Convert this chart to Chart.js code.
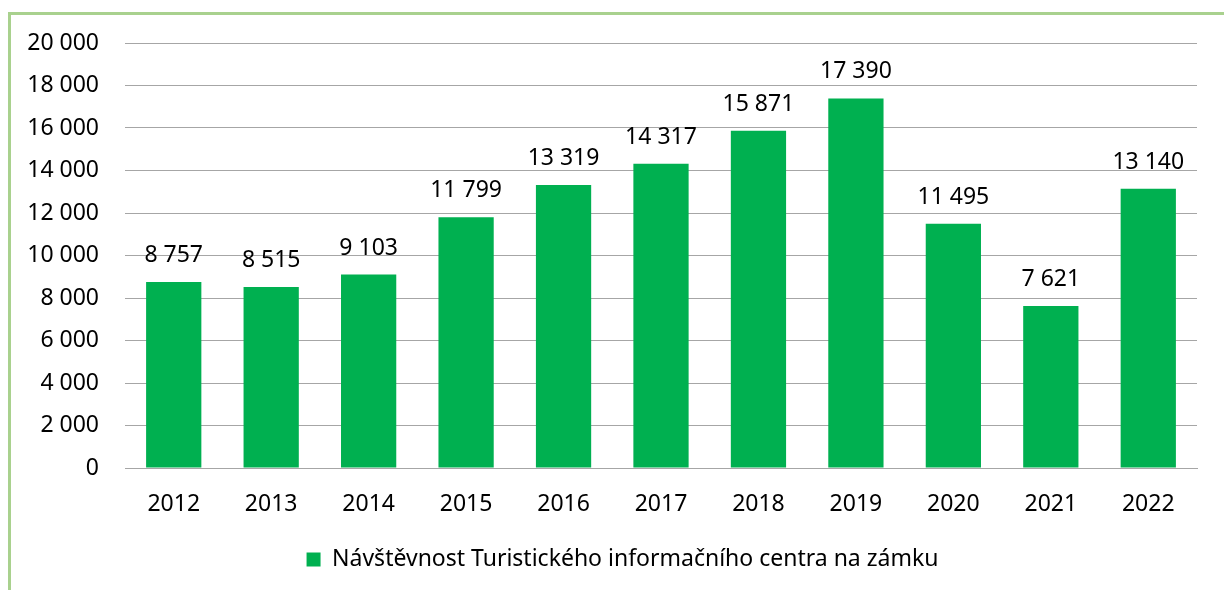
<!DOCTYPE html>
<html>
<head>
<meta charset="utf-8">
<script src="https://cdn.jsdelivr.net/npm/chart.js@4.4.1/dist/chart.umd.min.js"></script>
<style>
  html, body { margin: 0; padding: 0; background: #ffffff; }
  body { width: 1224px; height: 590px; position: relative; overflow: hidden; }
  #frame { position: absolute; left: 8px; top: 12px; width: 1240px; height: 600px;
           border-left: 3px solid #A9D18E; border-top: 3px solid #A9D18E; box-sizing: border-box; }
  #wrap { position: absolute; left: 0; top: 0; width: 1224px; height: 590px; }
</style>
</head>
<body>
<div id="frame"></div>
<div id="wrap"><canvas id="c" width="1224" height="590"></canvas></div>
<script>
const categories = ['2012','2013','2014','2015','2016','2017','2018','2019','2020','2021','2022'];
const visitors = [8757, 8515, 9103, 11799, 13319, 14317, 15871, 17390, 11495, 7621, 13140];
const seriesName = 'Návštěvnost Turistického informačního centra na zámku';
const yMin = 0, yMax = 20000, yStep = 2000;

const FONT = '"Noto Sans", "DejaVu Sans", sans-serif';
const fmt = v => String(v).replace(/\B(?=(\d{3})+(?!\d))/g, ' ');

const dataLabels = {
  id: 'dataLabels',
  afterDatasetsDraw(chart) {
    const ctx = chart.ctx;
    ctx.save();
    ctx.font = '23px ' + FONT;
    ctx.fillStyle = '#000000';
    ctx.textAlign = 'center';
    ctx.textBaseline = 'alphabetic';
    chart.getDatasetMeta(0).data.forEach((bar, i) => {
      ctx.fillText(fmt(chart.data.datasets[0].data[i]), bar.x, bar.y - 20);
    });
    ctx.restore();
  }
};

const legendShift = {
  id: 'legendShift',
  afterLayout(chart) {
    if (chart.legend) { chart.legend.left += 24; chart.legend.right += 24; }
  }
};

new Chart(document.getElementById('c'), {
  type: 'bar',
  data: {
    labels: categories,
    datasets: [{
      label: seriesName,
      data: visitors,
      backgroundColor: '#00B050',
      borderWidth: 0,
      barPercentage: 0.567,
      categoryPercentage: 1.0
    }]
  },
  options: {
    responsive: false,
    animation: false,
    devicePixelRatio: 1,
    layout: { padding: { left: 0, right: 27, top: 43, bottom: 9 } },
    plugins: {
      tooltip: { enabled: false },
      legend: {
        position: 'bottom',
        labels: {
          font: { family: FONT, size: 23 },
          color: '#000000',
          boxWidth: 14,
          boxHeight: 14,
          padding: 10,
          useBorderRadius: false
        }
      }
    },
    scales: {
      x: {
        grid: { display: false, drawTicks: false },
        border: { display: true, color: '#A6A6A6', width: 1 },
        ticks: { font: { family: FONT, size: 23 }, color: '#000000', padding: 23, maxRotation: 0 },
        afterFit(scale) { scale.height = 70; }
      },
      y: {
        min: yMin, max: yMax,
        grid: { color: '#A6A6A6', lineWidth: 1, drawTicks: false },
        border: { display: false },
        ticks: {
          stepSize: yStep,
          font: { family: FONT, size: 23 },
          color: '#000000',
          padding: 26,
          callback: v => fmt(v)
        },
        afterFit(scale) { scale.width = 125; }
      }
    }
  },
  plugins: [dataLabels, legendShift]
});
</script>
</body>
</html>
